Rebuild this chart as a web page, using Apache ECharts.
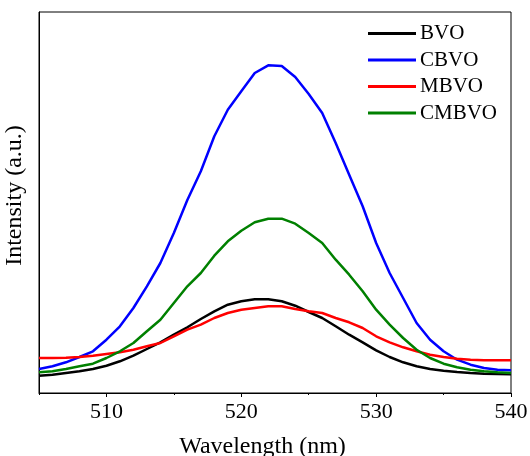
<!DOCTYPE html>
<html>
<head>
<meta charset="utf-8">
<script src="https://cdn.jsdelivr.net/npm/echarts@6/dist/echarts.min.js"></script>
<style>
  html, body { margin: 0; padding: 0; background: #fff; }
  #chart { width: 530px; height: 456px; }
</style>
</head>
<body>
<div id="chart"></div>
<script>
// Emission wavelengths, 1 nm steps
const wavelengths = [505, 506, 507, 508, 509, 510, 511, 512, 513, 514, 515, 516, 517, 518, 519, 520,
  521, 522, 523, 524, 525, 526, 527, 528, 529, 530, 531, 532, 533, 534, 535, 536, 537, 538, 539, 540];

// PL intensity (arbitrary units)
const bvo = [17.3, 18.3, 20, 21.7, 24, 27.3, 31.7, 37.3, 44, 50.7, 58.3, 65.7, 74, 81.7, 88.3, 91.7,
  93.7, 93.7, 91.7, 87.3, 81, 75, 66.7, 58.3, 50.7, 42.7, 36, 30.7, 26.7, 24, 22.3, 21, 20, 19.3, 19, 18.7];
const cbvo = [24, 26.7, 30.7, 36, 41.7, 53.3, 66.7, 85, 106.7, 130, 160, 193, 221.7, 256.7, 283.3, 301.7,
  320, 327.7, 327, 316, 299, 280, 250, 218.3, 186.7, 150, 120, 95, 70, 53.3, 41.7, 33.3, 28.3, 25, 23.3, 22.7];
const mbvo = [35, 35, 35.3, 36, 37.3, 39, 40.7, 43.3, 46.7, 50, 56.7, 63.3, 68.3, 75, 80, 83.3,
  85, 86.7, 86.7, 84, 81.7, 80, 75, 70.7, 65, 56.7, 50.7, 45.7, 41.7, 38.3, 36, 34.3, 33.3, 32.7, 32.7, 32.7];
const cmbvo = [20.7, 21.7, 24, 26.7, 29.3, 35, 41.7, 50, 61.7, 73.3, 90, 106.7, 120, 137.3, 151.7, 162.3,
  170.7, 174.3, 174.3, 169.3, 160, 150, 133.3, 118.3, 101.7, 83.3, 68.3, 55, 43.3, 35, 29.3, 25.7, 23.3, 21.7, 20.7, 20];

// Axis ticks
const majorTicks = [510, 520, 530, 540];
const minorTicks = [505, 515, 525, 535];

const seriesNames = ['BVO', 'CBVO', 'MBVO', 'CMBVO'];
const seriesValues = [bvo, cbvo, mbvo, cmbvo];
const seriesColors = ['#000000', '#0000ff', '#ff0000', '#008000'];

const FONT = '"Liberation Serif", "Times New Roman", serif';

const chart = echarts.init(document.getElementById('chart'), null, { renderer: 'canvas' });

const series = seriesNames.map((name, i) => ({
  name: name,
  type: 'line',
  xAxisIndex: 0,
  yAxisIndex: 0,
  data: wavelengths.map((w, j) => [w, seriesValues[i][j]]),
  showSymbol: false,
  symbol: 'none',
  smooth: false,
  lineStyle: { color: seriesColors[i], width: 2.5 },
  itemStyle: { color: seriesColors[i] },
  z: 2 + i
}));

chart.setOption({
  animation: false,
  backgroundColor: '#ffffff',
  grid: {
    left: 39, right: 19, top: 12, bottom: 63,
    containLabel: false,
    outerBoundsMode: 'none',
    show: true, borderColor: '#000', borderWidth: 1, backgroundColor: 'transparent'
  },
  legend: {
    orient: 'vertical',
    left: 363,
    top: 18,
    icon: 'rect',
    itemWidth: 48,
    itemHeight: 3,
    itemGap: 5.5,
    textStyle: { fontFamily: FONT, fontSize: 21, color: '#000', padding: [0, 0, 0, -1] },
    data: seriesNames
  },
  xAxis: [
    {
      type: 'value',
      min: 505,
      max: 540,
      position: 'bottom',
      axisLine: { show: true, lineStyle: { color: '#000', width: 1 } },
      axisTick: { show: true, inside: false, length: 4, customValues: majorTicks, lineStyle: { color: '#000', width: 1 } },
      axisLabel: { show: true, customValues: majorTicks, fontFamily: FONT, fontSize: 22, color: '#000', margin: 8 },
      splitLine: { show: false },
      name: 'Wavelength (nm)',
      nameLocation: 'middle',
      nameGap: 42,
      nameTextStyle: { fontFamily: FONT, fontSize: 24, color: '#000', padding: [0, 25, 0, 0] }
    },
    {
      type: 'value',
      min: 505,
      max: 540,
      position: 'bottom',
      axisLine: { show: false },
      axisTick: { show: true, inside: false, length: 2, customValues: minorTicks, lineStyle: { color: '#000', width: 1 } },
      axisLabel: { show: false },
      splitLine: { show: false }
    }
  ],
  yAxis: {
    type: 'value',
    min: 0,
    max: 381,
    axisLine: { show: true, lineStyle: { color: '#000', width: 1 } },
    axisTick: { show: false },
    axisLabel: { show: false },
    splitLine: { show: false },
    name: 'Intensity (a.u.)',
    nameLocation: 'middle',
    nameGap: 12,
    nameTextStyle: { fontFamily: FONT, fontSize: 24, color: '#000', padding: [0, 0, 0, 14] }
  },
  series: series
});
</script>
</body>
</html>
